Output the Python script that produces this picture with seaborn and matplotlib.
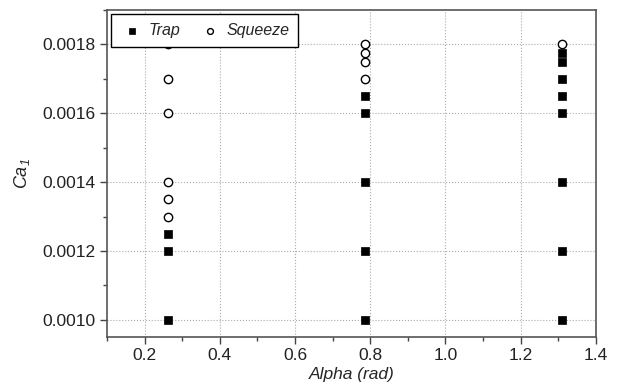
import numpy as np
import pandas as pd
import matplotlib
matplotlib.use('Agg')
import matplotlib.pyplot as plt
from matplotlib.ticker import MultipleLocator
import seaborn as sns

# ====== data ======
alpha_trap = [0.2618, 0.2618, 0.2618,
              0.7854, 0.7854, 0.7854, 0.7854, 0.7854,
              1.309, 1.309, 1.309, 1.309, 1.309, 1.309, 1.309, 1.309]
ca_trap = [0.0010, 0.0012, 0.00125,
           0.0010, 0.0012, 0.0014, 0.0016, 0.00165,
           0.0010, 0.0012, 0.0014, 0.0016, 0.00165, 0.0017, 0.00175, 0.001775]

alpha_squeeze = [0.2618, 0.2618, 0.2618, 0.2618, 0.2618, 0.2618,
                 0.7854, 0.7854, 0.7854, 0.7854,
                 1.309]
ca_squeeze = [0.0013, 0.00135, 0.0014, 0.0016, 0.0017, 0.0018,
              0.0017, 0.00175, 0.001775, 0.0018,
              0.0018]

trap = pd.DataFrame({'alpha': alpha_trap, 'ca': ca_trap})
squeeze = pd.DataFrame({'alpha': alpha_squeeze, 'ca': ca_squeeze})

# ====== style ======
sns.set_style('white')
plt.rcParams['font.family'] = ['Liberation Sans', 'DejaVu Sans']
plt.rcParams['mathtext.fontset'] = 'custom'
plt.rcParams['mathtext.it'] = 'Liberation Sans:italic'
plt.rcParams['mathtext.rm'] = 'Liberation Sans:italic'

fig = plt.figure(figsize=(6.2, 3.92), dpi=100)
ax = fig.add_axes([0.1726, 0.1403, 0.7884, 0.8342])

sns.scatterplot(data=trap, x='alpha', y='ca', marker='s', color='black',
                edgecolor='black', s=36, linewidth=0.5, label='Trap', ax=ax, zorder=3)
sns.scatterplot(data=squeeze, x='alpha', y='ca', marker='o', color='white',
                edgecolor='black', s=36, linewidth=1.0, label='Squeeze', ax=ax, zorder=3)

ax.set_xlim(0.1, 1.4)
ax.set_ylim(0.00095, 0.0019)
ax.xaxis.set_major_locator(MultipleLocator(0.2))
ax.xaxis.set_minor_locator(MultipleLocator(0.1))
ax.yaxis.set_major_locator(MultipleLocator(0.0002))
ax.yaxis.set_minor_locator(MultipleLocator(0.0001))
ax.xaxis.set_major_formatter(matplotlib.ticker.FormatStrFormatter('%.1f'))
ax.yaxis.set_major_formatter(matplotlib.ticker.FormatStrFormatter('%.4f'))

ax.tick_params(which='major', direction='out', length=5, width=1, color='#444444',
               labelsize=12.5, labelcolor='#222222', bottom=True, left=True, pad=3)
ax.tick_params(which='minor', direction='out', length=3, width=1, color='#444444',
               bottom=True, left=True)

ax.grid(which='major', linestyle=':', color='#aaaaaa', linewidth=0.8)
for s in ax.spines.values():
    s.set_color('#555555')
    s.set_linewidth(1.2)

ax.set_xlabel('Alpha (rad)', fontsize=12.5, style='italic', labelpad=3)
ax.set_ylabel('$Ca_1$', fontsize=13, labelpad=8)

leg = ax.legend(loc='upper left', ncol=2, frameon=True, fancybox=False,
                edgecolor='black', borderaxespad=0.25, markerscale=0.7,
                handletextpad=0.3, columnspacing=1.1, borderpad=0.55,
                handlelength=1.5, prop={'style': 'italic', 'size': 11.5})
leg.get_frame().set_linewidth(1.0)
leg.get_frame().set_alpha(1)

fig.savefig('out.png', dpi=100)
